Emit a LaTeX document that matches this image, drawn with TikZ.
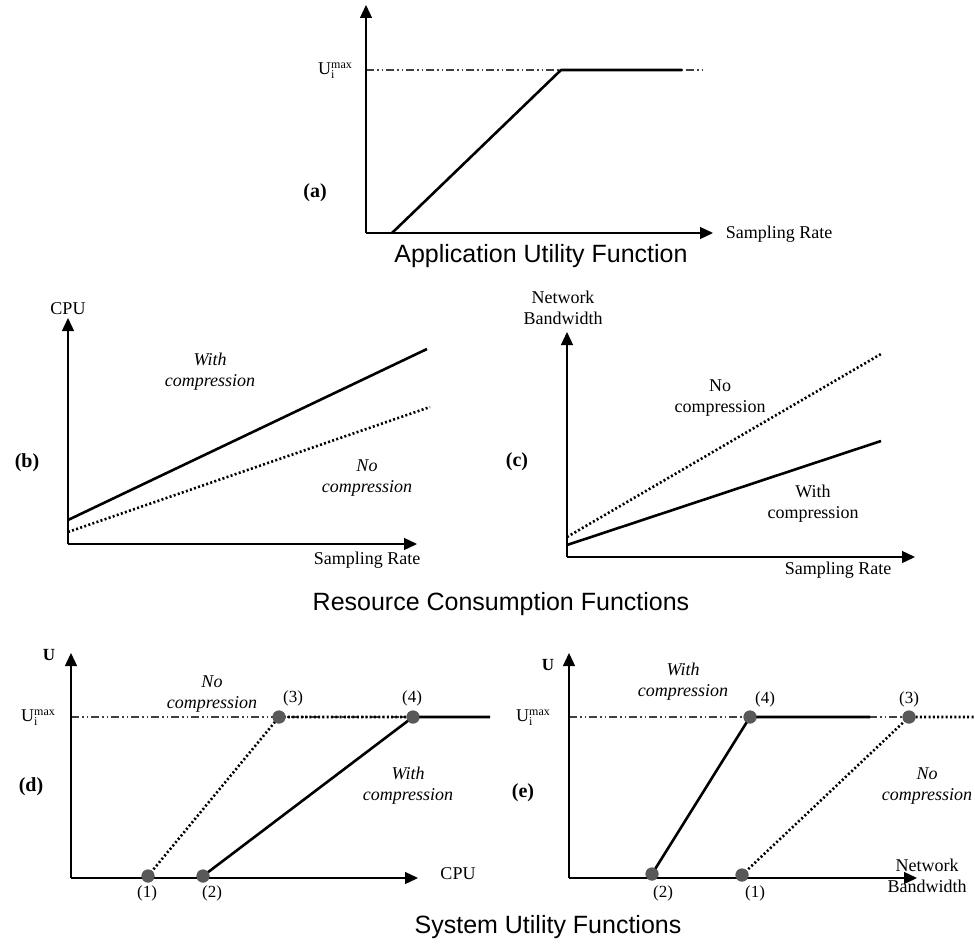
\documentclass[tikz,border=0pt]{standalone}
\usepackage{fontspec}
\setmainfont{Liberation Serif}
\newfontfamily\titlefont{Liberation Sans}
\usetikzlibrary{arrows.meta}
\newcommand\Umaxlbl{\fontsize{18}{20}\selectfont U\rlap{\raisebox{-0.5ex}{\fontsize{12}{13}\selectfont i}}\raisebox{0.75ex}{\fontsize{12}{13}\selectfont max}}
\begin{document}
\begin{tikzpicture}[x=1pt,y=-1pt,
 axis/.style={line width=1.3pt,-{Triangle[length=13pt,width=12pt]}},
 curve/.style={line width=2.6pt,line join=round},
 dotcurve/.style={line width=2.6pt,dash pattern=on 2pt off 2.3pt},
 umaxline/.style={line width=1.2pt,black!75,dash pattern=on 8pt off 3pt on 1.5pt off 3pt on 1.5pt off 3pt},
 lbl/.style={font=\fontsize{18}{21}\selectfont,align=center,inner sep=0pt},
 ilbl/.style={font=\fontsize{18}{21}\selectfont\itshape,align=center,inner sep=0pt},
 plbl/.style={font=\fontsize{20}{22}\selectfont\bfseries,inner sep=0pt},
 blbl/.style={font=\fontsize{17}{20}\selectfont\bfseries,inner sep=0pt},
 num/.style={font=\fontsize{17}{20}\selectfont,inner sep=0pt},
 title/.style={font=\titlefont\fontsize{25}{29}\selectfont,inner sep=0pt},
 dotpt/.style={circle,fill=black!65,minimum size=13pt,inner sep=0pt},
 ulbl/.style={inner sep=0pt},
]
\useasboundingbox (0,0) rectangle (975,950);

% ---------- (a) ----------
\coordinate (aO) at (366,233);
\coordinate (aY) at (366,5);
\coordinate (aX) at (713,233);
\coordinate (aL) at (366,70);
\coordinate (aR) at (702,70);
\coordinate (aS) at (392,233);
\coordinate (aK) at (561,70);
\coordinate (aE) at (682,70);
\draw[umaxline] (aL) -- (aR);
\draw[axis] (aO) -- (aY);
\draw[axis] (aO) -- (aX);
\draw[curve] (aS) -- (aK) -- (aE);
\node[ulbl] (aU) at (335,71) {\Umaxlbl};
\node[lbl] (aXl) at (779,234) {Sampling Rate};
\node[plbl] (aP) at (315,193) {(a)};
\node[title] (aT) at (541,256) {Application Utility Function};

% ---------- (b) ----------
\coordinate (bO) at (68,544);
\coordinate (bY) at (68,318);
\coordinate (bX) at (417,544);
\coordinate (bS1) at (68,520);
\coordinate (bE1) at (427,349);
\coordinate (bS2) at (68,532);
\coordinate (bE2) at (430,407);
\draw[axis] (bO) -- (bY);
\draw[axis] (bO) -- (bX);
\draw[curve] (bS1) -- (bE1);
\draw[dotcurve] (bS2) -- (bE2);
\node[lbl] (bYl) at (68,309) {CPU};
\node[ilbl] (bW) at (210,372) {With\\compression};
\node[ilbl] (bN) at (367,478) {No\\compression};
\node[lbl] (bXl) at (367,560) {Sampling Rate};
\node[plbl] (bP) at (27,463) {(b)};

% ---------- (c) ----------
\coordinate (cO) at (567,557);
\coordinate (cY) at (567,332);
\coordinate (cX) at (915,557);
\coordinate (cS1) at (567,537);
\coordinate (cE1) at (881,354);
\coordinate (cS2) at (567,545);
\coordinate (cE2) at (881,441);
\draw[axis] (cO) -- (cY);
\draw[axis] (cO) -- (cX);
\draw[dotcurve] (cS1) -- (cE1);
\draw[curve] (cS2) -- (cE2);
\node[lbl] (cYl) at (563,308) {Network\\Bandwidth};
\node[lbl] (cN) at (720,398) {No\\compression};
\node[lbl] (cW) at (813,504) {With\\compression};
\node[lbl] (cXl) at (838,570) {Sampling Rate};
\node[plbl] (cP) at (517,462) {(c)};

\node[title] (rT) at (501,604) {Resource Consumption Functions};

% ---------- (d) ----------
\coordinate (dO) at (71,878);
\coordinate (dY) at (71,653);
\coordinate (dX) at (418,878);
\coordinate (dL) at (71,717);
\coordinate (dE) at (490,717);
\node[dotpt] (d1) at (148,876) {};
\node[dotpt] (d2) at (203,876) {};
\node[dotpt] (d3) at (279,717) {};
\node[dotpt] (d4) at (413,717) {};
\draw[umaxline] (dL) -- (d4.center);
\draw[axis] (dO) -- (dY);
\draw[axis] (dO) -- (dX);
\draw[dotcurve] (d1.center) -- (d3.center) -- (d4.center);
\draw[curve] (d2.center) -- (d4.center) -- (dE);
\node[dotpt] at (d1) {};
\node[dotpt] at (d2) {};
\node[dotpt] at (d3) {};
\node[dotpt] at (d4) {};
\node[num] (d1l) at (147,893) {(1)};
\node[num] (d2l) at (212,893) {(2)};
\node[num] (d3l) at (293,698) {(3)};
\node[num] (d4l) at (412,698) {(4)};
\node[blbl] (dU) at (49,655) {U};
\node[ulbl] (dUm) at (38,718) {\Umaxlbl};
\node[ilbl] (dN) at (212,694) {No\\compression};
\node[ilbl] (dW) at (408,786) {With\\compression};
\node[lbl] (dXl) at (458,874) {CPU};
\node[plbl] (dP) at (31,787) {(d)};

% ---------- (e) ----------
\coordinate (eO) at (569,878);
\coordinate (eY) at (569,653);
\coordinate (eX) at (917,878);
\coordinate (eL) at (569,717);
\coordinate (eE) at (870,717);
\coordinate (eR) at (975,717);
\node[dotpt] (e4) at (750,717) {};
\node[dotpt] (e3) at (909,717) {};
\node[dotpt] (e2) at (652,874) {};
\node[dotpt] (e1) at (742,875) {};
\draw[umaxline] (eL) -- (e3.center);
\draw[axis] (eO) -- (eY);
\draw[axis] (eO) -- (eX);
\draw[curve] (e2.center) -- (e4.center) -- (eE);
\draw[dotcurve] (e1.center) -- (e3.center) -- (eR);
\node[dotpt] at (e1) {};
\node[dotpt] at (e2) {};
\node[dotpt] at (e3) {};
\node[dotpt] at (e4) {};
\node[num] (e4l) at (765,699) {(4)};
\node[num] (e3l) at (909,699) {(3)};
\node[num] (e2l) at (663,893) {(2)};
\node[num] (e1l) at (755,893) {(1)};
\node[blbl] (eU) at (548,665) {U};
\node[ulbl] (eUm) at (533,718) {\Umaxlbl};
\node[ilbl] (eW) at (683,682) {With\\compression};
\node[ilbl] (eN) at (927,786) {No\\compression};
\node[lbl] (eXl) at (927,876) {Network\\Bandwidth};
\node[plbl] (eP) at (523,793) {(e)};

\node[title] (sT) at (548,927) {System Utility Functions};
\end{tikzpicture}
\end{document}
